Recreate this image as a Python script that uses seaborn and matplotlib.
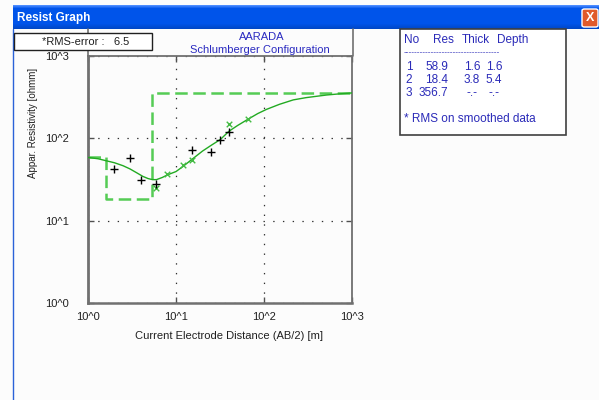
import numpy as np
import pandas as pd
import matplotlib
matplotlib.use("Agg")
import matplotlib.pyplot as plt
import seaborn as sns
from matplotlib.patches import Rectangle, FancyBboxPatch
from matplotlib.lines import Line2D
from matplotlib.ticker import FixedLocator, FixedFormatter, NullFormatter, LogLocator


# field data (+)
obs_ab2 = [2.0, 3.0, 4.0, 6.0, 15.1, 25.0, 31.6, 40.3]
obs_rho = [42.6, 57.0, 31.5, 27.9, 73.0, 68.0, 95.0, 121.0]

# smoothed data (x)
smo_ab2 = [6.0, 7.95, 12.1, 15.1, 40.3, 65.0]
smo_rho = [24.8, 37.0, 48.0, 55.0, 150.0, 172.0]

# calculated curve
cur_ab2 = [1.0, 1.3, 1.6, 2.0, 2.5, 3.0, 3.6, 4.2, 4.8, 5.4, 6.0, 7.0, 8.0, 10.0,
           12.0, 15.0, 20.0, 25.0, 32.0, 40.0, 50.0, 66.0, 85.0, 107.0, 150.0,
           215.0, 300.0, 515.0, 700.0, 1000.0]
cur_rho = [58.6, 56.5, 53.5, 50.5, 46.5, 42.5, 38.0, 34.5, 32.5, 31.5, 31.5, 33.5,
           36.0, 39.5, 45.5, 55.0, 70.0, 82.0, 97.0, 122.0, 143.0, 171.0, 200.0,
           225.0, 259.0, 293.0, 312.0, 336.0, 346.0, 356.0]

# layer model
layer_no = [1, 2, 3]
layer_res = [58.9, 18.4, 356.7]
layer_thick = ["1.6", "3.8", "-.-"]
layer_depth = ["1.6", "5.4", "-.-"]

tick_vals = [1, 10, 100, 1000]
tick_labels = ["10^0", "10^1", "10^2", "10^3"]

site_name = "AARADA"
config_name = "Schlumberger Configuration"
rms_error = 6.5

W, H = 599, 400


def fx(x):
    return x / W


def fy(y):
    return 1 - y / H


sns.set_style("white")
plt.rcParams['font.family'] = ['Liberation Sans', 'DejaVu Sans']
plt.rcParams['lines.scale_dashes'] = False

fig = plt.figure(figsize=(W / 100, H / 100), dpi=100)
fig.patch.set_facecolor("#FCFCFC")

# window title bar
tb = fig.add_axes([fx(13), fy(29), fx(586), 24 / H])
grad = np.concatenate([np.linspace(0.0, 1.0, 4), np.ones(14), np.linspace(1.0, 0.85, 6)])
base_top = np.array([0.30, 0.55, 1.0])
base_mid = np.array([0.0, 0.33, 0.92])
cols = np.array([base_top + (base_mid - base_top) * g if i < 4 else base_mid * g
                 for i, g in enumerate(grad)])
tb.imshow(cols[:, None, :], aspect="auto", extent=[0, 1, 0, 1])
tb.axis("off")
fig.text(fx(17), fy(18), "Resist Graph", color="white", fontsize=8.5, fontweight="bold",
         ha="left", va="center")
fig.add_artist(FancyBboxPatch((fx(582), fy(27)), fx(16), 18 / H,
                              boxstyle="round,pad=0,rounding_size=0.004",
                              facecolor="#E05A2C", edgecolor="white", lw=1,
                              transform=fig.transFigure))
fig.text(fx(590), fy(18), "X", color="white", fontsize=9, fontweight="bold",
         ha="center", va="center")
fig.add_artist(Line2D([fx(13), fx(13)], [fy(29), 0], color="#2A62D8", lw=1.0,
                      transform=fig.transFigure))

# main axes
ax = fig.add_axes([fx(88), fy(303), 264 / W, 247 / H])
ax.set_facecolor("#FCFCFC")

d1 = float(layer_depth[0])
d2 = float(layer_depth[1])
steps_x = [1, d1, d1, d2, d2, 1000]
steps_y = [layer_res[0], layer_res[0], layer_res[1], layer_res[1], layer_res[2], layer_res[2]]
ax.plot(steps_x, steps_y, color="#55CC55", lw=1.8, linestyle=(0, (9, 4)), zorder=2)

sns.lineplot(x=cur_ab2, y=cur_rho, ax=ax, color="#22AA22", lw=1.0, sort=False, zorder=3)
sns.scatterplot(x=smo_ab2, y=smo_rho, ax=ax, marker="x", color="#44BB44", s=16,
                linewidth=1.0, zorder=4)
sns.scatterplot(x=obs_ab2, y=obs_rho, ax=ax, marker="+", color="black", s=40,
                linewidth=1.0, zorder=5)

ax.set_xscale("log")
ax.set_yscale("log")
ax.set_xlim(1, 1000)
ax.set_ylim(1, 1000)
ax.xaxis.set_major_locator(FixedLocator(tick_vals))
ax.xaxis.set_major_formatter(FixedFormatter(tick_labels))
ax.yaxis.set_major_locator(FixedLocator(tick_vals))
ax.yaxis.set_major_formatter(FixedFormatter(tick_labels))
ax.xaxis.set_minor_locator(LogLocator(base=10, subs=np.arange(2, 10)))
ax.yaxis.set_minor_locator(LogLocator(base=10, subs=np.arange(2, 10)))
ax.xaxis.set_minor_formatter(NullFormatter())
ax.yaxis.set_minor_formatter(NullFormatter())

ax.tick_params(axis="both", which="major", direction="in", length=4, width=1,
               color="#505050", labelsize=8, labelcolor="#202020",
               top=True, right=True, left=True, bottom=True)
ax.tick_params(axis="both", which="minor", direction="in", length=2, width=0.8,
               color="#505050", top=False, right=False)
ax.tick_params(axis="y", which="major", pad=13.5)
ax.tick_params(axis="x", which="major", pad=6.5)

ax.grid(True, which="major", linestyle=(0, (1, 6)), color="#303030", lw=0.9)
for s in ax.spines.values():
    s.set_color("#707070")
    s.set_linewidth(1.3)
ax.spines["left"].set_linewidth(2)
ax.spines["bottom"].set_linewidth(1.8)

ax.set_xlabel("Current Electrode Distance (AB/2) [m]", fontsize=8, color="#202020")
ax.xaxis.set_label_coords(0.534, -0.115)
ax.set_ylabel("Appar. Resistivity [ohmm]", fontsize=7, color="#202020")
ax.yaxis.set_label_coords(-0.19, 0.729)

# header box above axes
for xs, ys in [([88, 88], [29, 56]), ([353, 353], [29, 56])]:
    fig.add_artist(Line2D([fx(v) for v in xs], [fy(v) for v in ys], color="#707070",
                          lw=1.2, transform=fig.transFigure, zorder=1))
fig.text(fx(262), fy(37), site_name, color="#2A2AC0", fontsize=8, ha="center", va="center")
fig.text(fx(260), fy(50), config_name, color="#2A2AC0", fontsize=8, ha="center", va="center")

# RMS box
fig.add_artist(Rectangle((fx(14), fy(50)), fx(138), 17 / H, facecolor="white",
                         edgecolor="#202020", lw=1, transform=fig.transFigure, zorder=5))
fig.text(fx(86), fy(42), "*RMS-error :   %.1f" % rms_error, color="#202020",
         fontsize=8, ha="center", va="center", zorder=6)

# layer table box
fig.add_artist(Rectangle((fx(400), fy(135)), fx(166), 106 / H, facecolor="white",
                         edgecolor="#404040", lw=1.2, transform=fig.transFigure))
tcol = "#2A2AB8"
tfs = 8.5
fig.text(fx(404), fy(40), "No", color=tcol, fontsize=tfs, va="center")
fig.text(fx(433), fy(40), "Res", color=tcol, fontsize=tfs, va="center")
fig.text(fx(462), fy(40), "Thick", color=tcol, fontsize=tfs, va="center")
fig.text(fx(497), fy(40), "Depth", color=tcol, fontsize=tfs, va="center")
fig.text(fx(404), fy(53), "-" * 35, color=tcol, fontsize=6, va="center")
for i in range(len(layer_no)):
    yy = fy(67 + 13 * i)
    fig.text(fx(409), yy, str(layer_no[i]), color=tcol, fontsize=tfs, va="center", ha="center")
    fig.text(fx(448), yy, "%.1f" % layer_res[i], color=tcol, fontsize=tfs, va="center", ha="right")
    fig.text(fx(472), yy, layer_thick[i], color=tcol, fontsize=tfs, va="center", ha="center")
    fig.text(fx(494), yy, layer_depth[i], color=tcol, fontsize=tfs, va="center", ha="center")
fig.text(fx(404), fy(119), "* RMS on smoothed data", color=tcol, fontsize=tfs, va="center")

fig.savefig("out.png", dpi=100, facecolor=fig.get_facecolor())
